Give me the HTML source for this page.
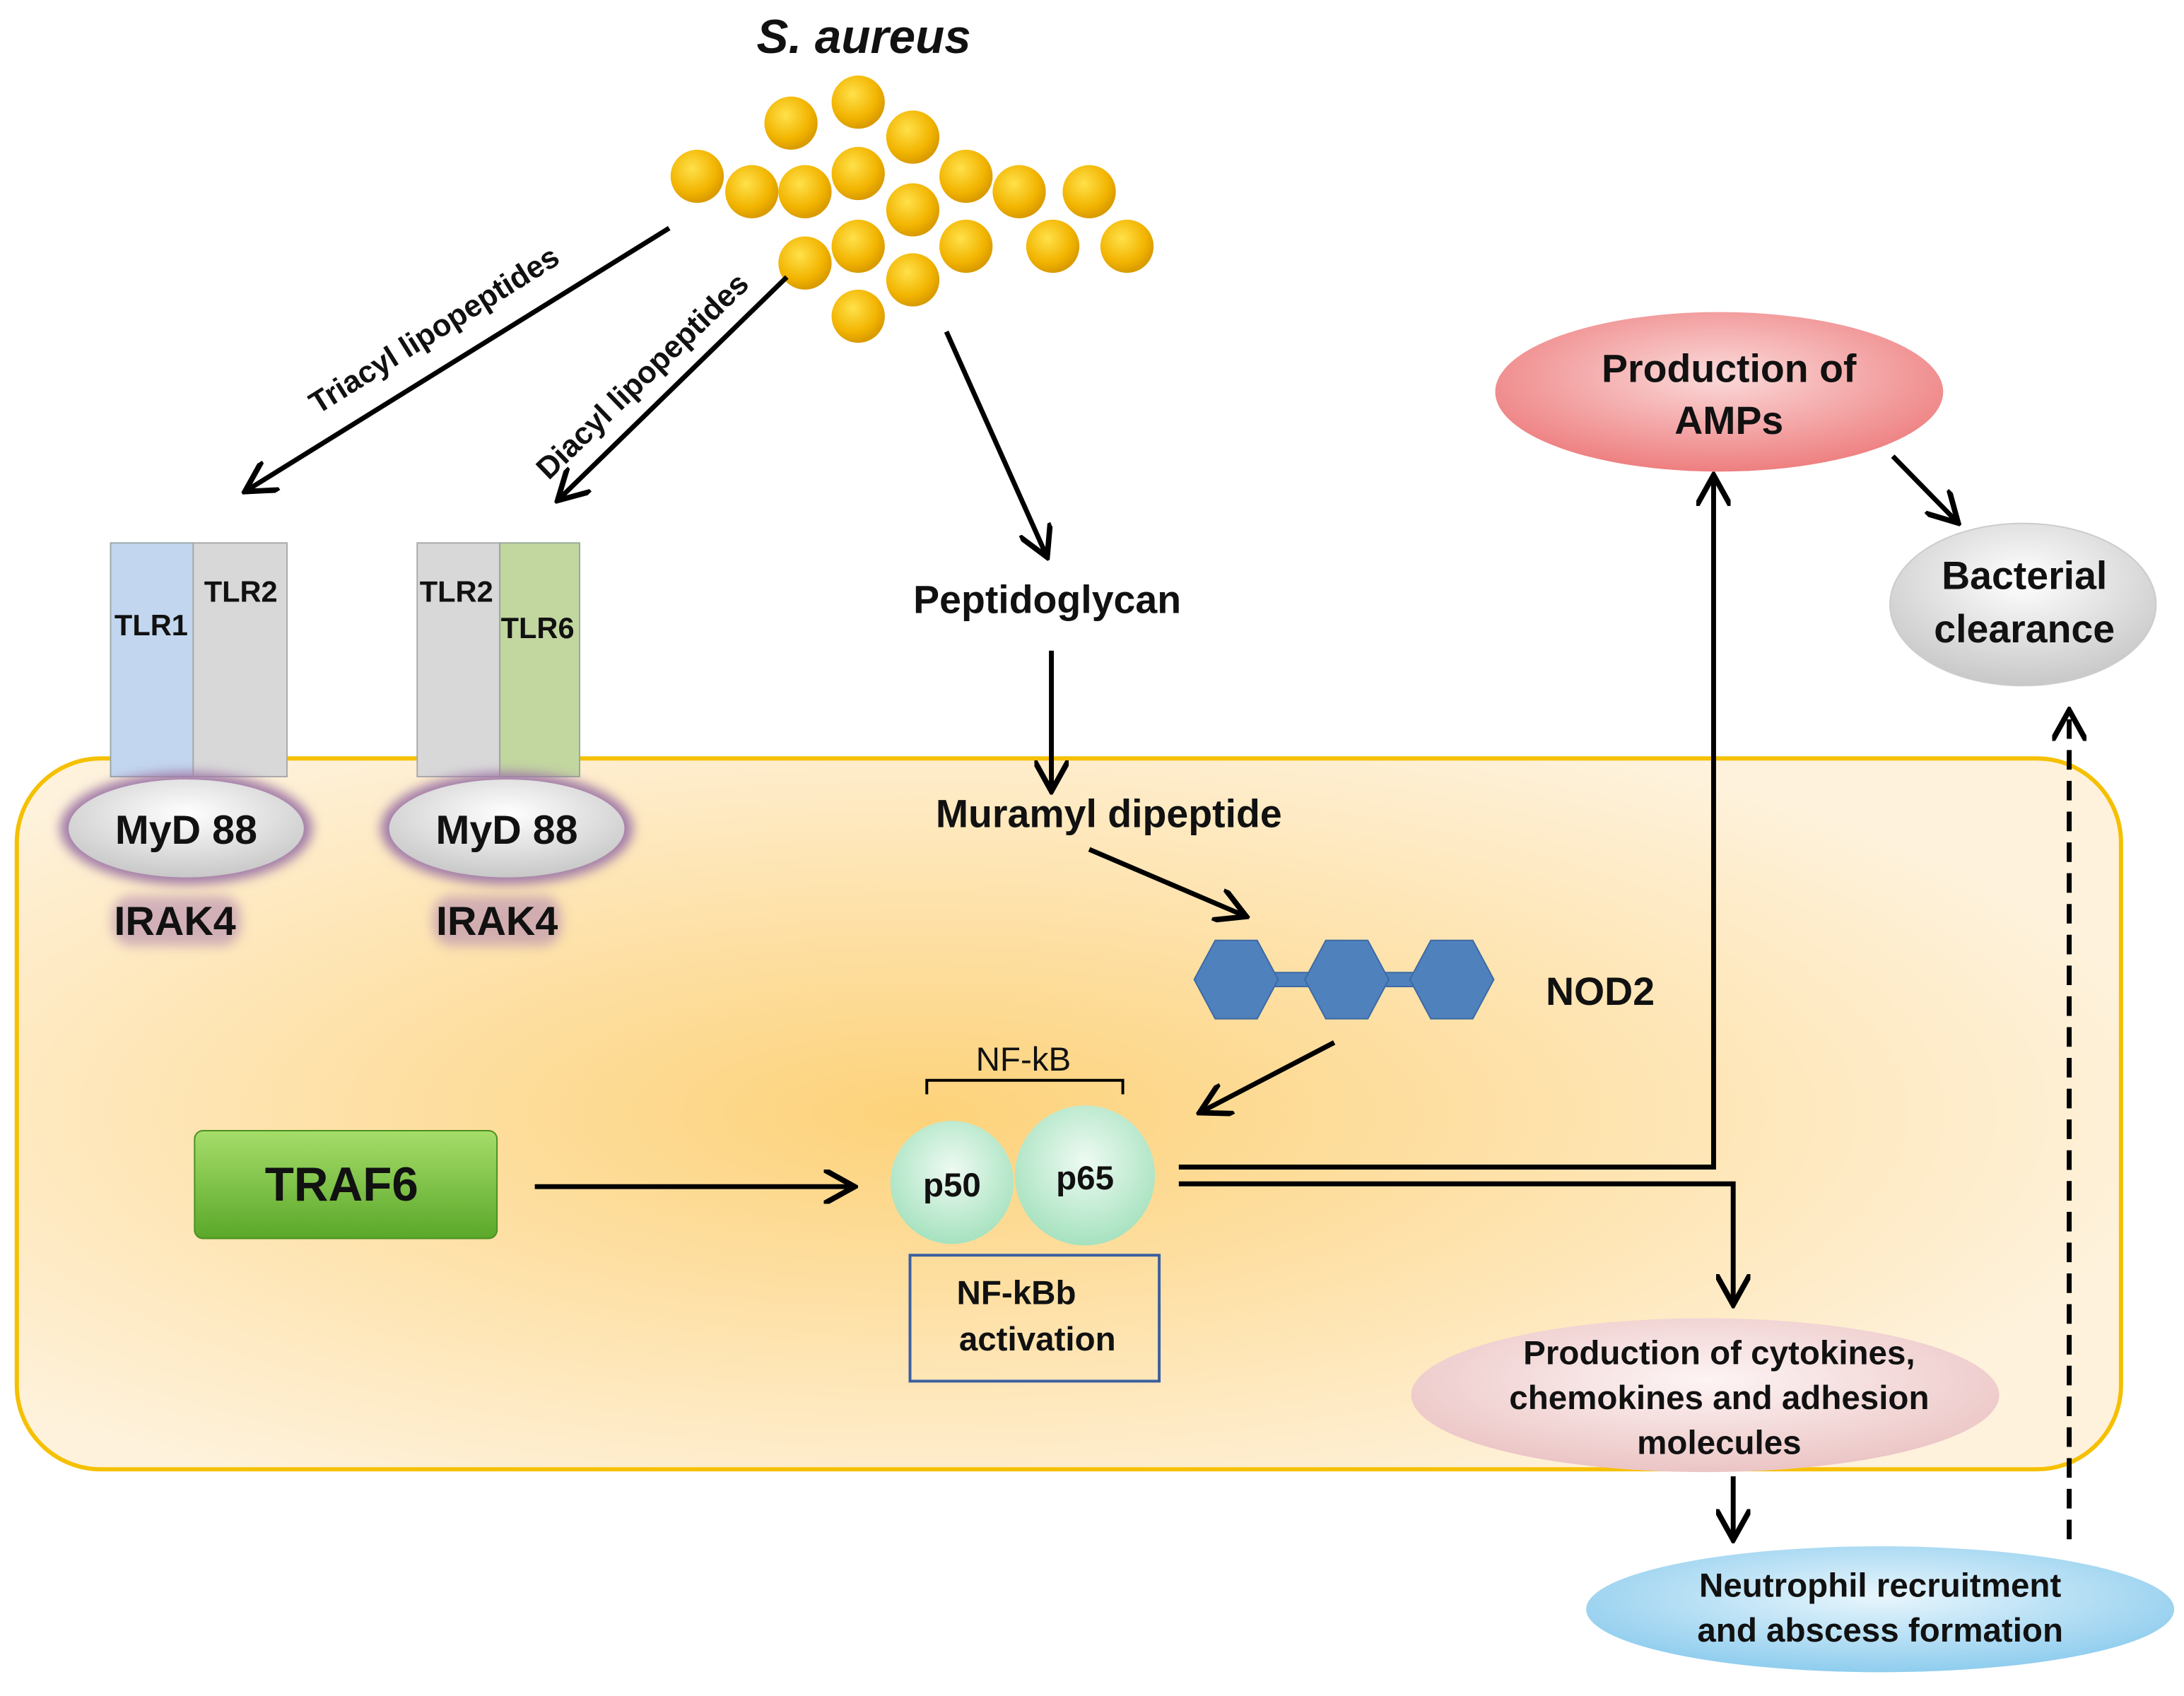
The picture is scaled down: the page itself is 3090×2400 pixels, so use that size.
<!DOCTYPE html>
<html><head><meta charset="utf-8"><style>
html,body{margin:0;padding:0;background:#fff;}
svg{display:block;}
text{font-family:"Liberation Sans",Arial,sans-serif;font-weight:bold;fill:#111;}
</style></head><body>
<svg width="3090" height="2400" viewBox="0 0 1560 1212" preserveAspectRatio="none" xmlns="http://www.w3.org/2000/svg">
<defs>
<radialGradient id="cell" cx="0.43" cy="0.5" r="0.6">
<stop offset="0" stop-color="#fdd27a"/><stop offset="1" stop-color="#fef2dc"/></radialGradient>
<radialGradient id="ball" cx="0.4" cy="0.35" r="0.65">
<stop offset="0" stop-color="#ffe14a"/><stop offset="0.7" stop-color="#f2b400"/><stop offset="1" stop-color="#d99a00"/></radialGradient>
<radialGradient id="green" cx="0.5" cy="0.4" r="0.6">
<stop offset="0" stop-color="#eefaf2"/><stop offset="1" stop-color="#a6e2bf"/></radialGradient>
<radialGradient id="red" cx="0.5" cy="0.4" r="0.6">
<stop offset="0" stop-color="#fbdada"/><stop offset="1" stop-color="#ee7f80"/></radialGradient>
<radialGradient id="gray" cx="0.5" cy="0.35" r="0.65">
<stop offset="0" stop-color="#ffffff"/><stop offset="1" stop-color="#c8c8c8"/></radialGradient>
<radialGradient id="pink" cx="0.5" cy="0.4" r="0.6">
<stop offset="0" stop-color="#fdf4f4"/><stop offset="1" stop-color="#ecc5c5"/></radialGradient>
<radialGradient id="blue" cx="0.5" cy="0.4" r="0.6">
<stop offset="0" stop-color="#e8f6fd"/><stop offset="1" stop-color="#8fcdee"/></radialGradient>
<linearGradient id="traf" x1="0" y1="0" x2="0" y2="1">
<stop offset="0" stop-color="#a6dd6a"/><stop offset="1" stop-color="#5aa82a"/></linearGradient>
<filter id="glow" x="-30%" y="-30%" width="160%" height="160%"><feGaussianBlur stdDeviation="4"/></filter>
<marker id="ar" viewBox="0 0 10 10" refX="8" refY="5" markerWidth="7" markerHeight="7" orient="auto-start-reverse">
<path d="M0,0 L9,5 L0,10" fill="none" stroke="#000" stroke-width="1.6"/></marker>
</defs>

<rect x="12" y="542" width="1503" height="508" rx="60" fill="url(#cell)" stroke="#f5c000" stroke-width="3"/>

<text x="617" y="38" font-size="34" font-style="italic" text-anchor="middle">S. aureus</text>
<g fill="url(#ball)">
<circle cx="613" cy="73" r="19"/><circle cx="565" cy="88" r="19"/><circle cx="652" cy="98" r="19"/>
<circle cx="498" cy="126" r="19"/><circle cx="537" cy="137" r="19"/><circle cx="575" cy="137" r="19"/>
<circle cx="613" cy="124" r="19"/><circle cx="690" cy="126" r="19"/><circle cx="728" cy="137" r="19"/>
<circle cx="778" cy="137" r="19"/><circle cx="652" cy="150" r="19"/><circle cx="575" cy="188" r="19"/>
<circle cx="613" cy="176" r="19"/><circle cx="690" cy="176" r="19"/><circle cx="752" cy="176" r="19"/>
<circle cx="805" cy="176" r="19"/><circle cx="652" cy="200" r="19"/><circle cx="613" cy="226" r="19"/>
</g>

<g stroke="#000" stroke-width="3.5" fill="none" marker-end="url(#ar)">
<line x1="478" y1="163" x2="177" y2="350"/>
<line x1="562" y1="198" x2="400" y2="356"/>
<line x1="676" y1="237" x2="747" y2="396"/>
<line x1="751" y1="465" x2="751" y2="563"/>
<line x1="778" y1="607" x2="888" y2="654"/>
<line x1="953" y1="745" x2="859" y2="794"/>
<line x1="382" y1="848" x2="608" y2="848"/>
<line x1="1352" y1="326" x2="1397" y2="372"/>
<polyline points="842,834 1224,834 1224,342"/>
<polyline points="842,846 1238,846 1238,930"/>
<line x1="1238" y1="1055" x2="1238" y2="1098"/>
<line x1="1478" y1="1100" x2="1478" y2="510" stroke-dasharray="14,8"/>
</g>
<text font-size="22" transform="translate(314,242) rotate(-32)" text-anchor="middle">Triacyl lipopeptides</text>
<text font-size="22" transform="translate(464,274) rotate(-44)" text-anchor="middle">Diacyl lipopeptides</text>
<text x="748" y="438" font-size="28" text-anchor="middle">Peptidoglycan</text>
<text x="792" y="591" font-size="28" text-anchor="middle">Muramyl dipeptide</text>

<!-- TLRs -->
<rect x="79" y="388" width="59" height="167" fill="#c2d6ef" stroke="#9aa" stroke-width="1"/>
<rect x="138" y="388" width="67" height="167" fill="#d8d8d8" stroke="#aaa" stroke-width="1"/>
<rect x="298" y="388" width="59" height="167" fill="#d8d8d8" stroke="#aaa" stroke-width="1"/>
<rect x="357" y="388" width="57" height="167" fill="#c2d6a0" stroke="#9a9" stroke-width="1"/>
<text x="108" y="454" font-size="21" text-anchor="middle">TLR1</text>
<text x="172" y="430" font-size="21" text-anchor="middle">TLR2</text>
<text x="326" y="430" font-size="21" text-anchor="middle">TLR2</text>
<text x="384" y="456" font-size="21" text-anchor="middle">TLR6</text>

<ellipse cx="133" cy="592" rx="90" ry="40" fill="#a07aa8" filter="url(#glow)"/>
<ellipse cx="133" cy="592" rx="84" ry="35" fill="url(#gray)"/>
<ellipse cx="362" cy="592" rx="90" ry="40" fill="#a07aa8" filter="url(#glow)"/>
<ellipse cx="362" cy="592" rx="84" ry="35" fill="url(#gray)"/>
<text x="133" y="603" font-size="29" text-anchor="middle" font-weight="normal" style="font-weight:bold">MyD 88</text>
<text x="362" y="603" font-size="29" text-anchor="middle">MyD 88</text>
<rect x="80" y="640" width="92" height="36" rx="14" fill="#b48ab0" opacity="0.6" filter="url(#glow)"/>
<rect x="309" y="640" width="92" height="36" rx="14" fill="#b48ab0" opacity="0.6" filter="url(#glow)"/>
<text x="125" y="668" font-size="29" text-anchor="middle">IRAK4</text>
<text x="355" y="668" font-size="29" text-anchor="middle">IRAK4</text>

<!-- NOD2 -->
<g fill="#4f81bd" stroke="#3d6aa3" stroke-width="1">
<rect x="900" y="695" width="150" height="10" />
<polygon points="853,700 868,672 898,672 913,700 898,728 868,728"/>
<polygon points="932,700 947,672 977,672 992,700 977,728 947,728"/>
<polygon points="1007,700 1022,672 1052,672 1067,700 1052,728 1022,728"/>
</g>
<text x="1143" y="718" font-size="28" text-anchor="middle">NOD2</text>

<!-- NF-kB -->
<polyline points="662,782 662,772 802,772 802,782" fill="none" stroke="#000" stroke-width="2"/>
<text x="731" y="765" font-size="24" font-weight="normal" text-anchor="middle" style="font-weight:normal">NF-kB</text>
<circle cx="680" cy="845" r="44" fill="url(#green)"/>
<circle cx="775" cy="840" r="50" fill="url(#green)"/>
<text x="680" y="855" font-size="24" text-anchor="middle">p50</text>
<text x="775" y="850" font-size="24" text-anchor="middle">p65</text>
<rect x="650" y="897" width="178" height="90" fill="none" stroke="#3b5fa0" stroke-width="2"/>
<text x="726" y="932" font-size="24" text-anchor="middle">NF-kBb</text>
<text x="741" y="965" font-size="24" text-anchor="middle">activation</text>

<rect x="139" y="808" width="216" height="77" rx="6" fill="url(#traf)" stroke="#4a9020" stroke-width="1"/>
<text x="244" y="858" font-size="34" text-anchor="middle">TRAF6</text>

<ellipse cx="1228" cy="280" rx="160" ry="57" fill="url(#red)"/>
<text x="1235" y="273" font-size="28" text-anchor="middle">Production of</text>
<text x="1235" y="310" font-size="28" text-anchor="middle">AMPs</text>
<ellipse cx="1445" cy="432" rx="95" ry="58" fill="url(#gray)" stroke="#ccc"/>
<text x="1446" y="421" font-size="28" text-anchor="middle">Bacterial</text>
<text x="1446" y="459" font-size="28" text-anchor="middle">clearance</text>
<ellipse cx="1218" cy="997" rx="210" ry="55" fill="url(#pink)"/>
<text x="1228" y="975" font-size="24" text-anchor="middle">Production of cytokines,</text>
<text x="1228" y="1007" font-size="24" text-anchor="middle">chemokines and adhesion</text>
<text x="1228" y="1039" font-size="24" text-anchor="middle">molecules</text>
<ellipse cx="1343" cy="1150" rx="210" ry="45" fill="url(#blue)"/>
<text x="1343" y="1141" font-size="24" text-anchor="middle">Neutrophil recruitment</text>
<text x="1343" y="1173" font-size="24" text-anchor="middle">and abscess formation</text>
</svg>
</body></html>
